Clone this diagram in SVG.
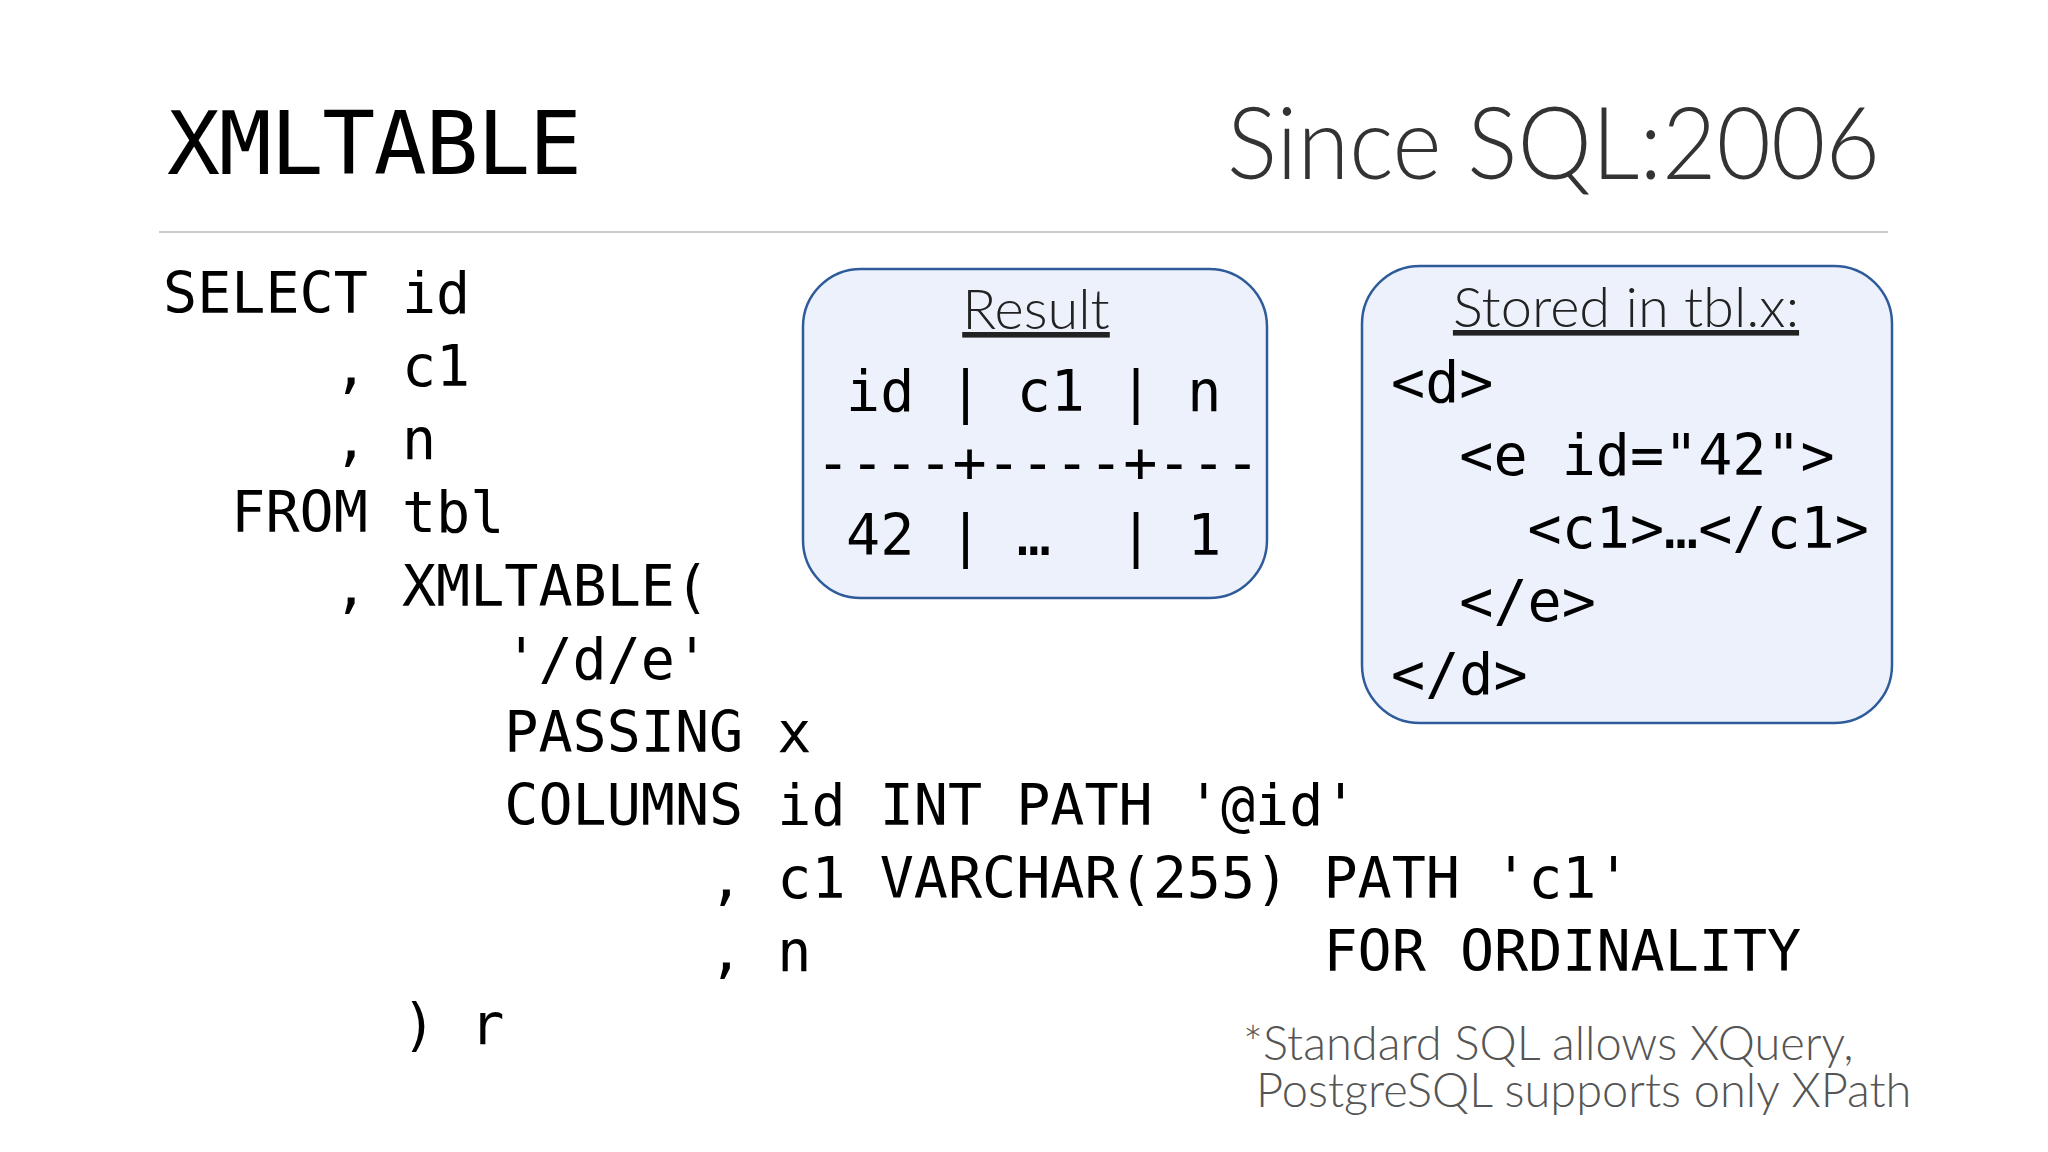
<svg xmlns="http://www.w3.org/2000/svg" width="2048" height="1152" viewBox="0 0 2048 1152">
<style>
.m{font-family:"DejaVu Sans Mono","Liberation Mono",monospace;font-size:56.7px;fill:#000;white-space:pre}
.l{font-family:"Lato","Liberation Sans",sans-serif;font-weight:300}
.box{fill:#ecf1fb;stroke:#2e5c9a;stroke-width:2.5}
</style>
<rect width="2048" height="1152" fill="#fff"/>
<g id="title"><text x="167" y="174" class="m" style="font-size:88px" textLength="415">XMLTABLE</text></g>
<g id="since"><text x="1880" y="179" class="l" text-anchor="end" font-size="100" fill="#333" textLength="653" lengthAdjust="spacingAndGlyphs">Since SQL:2006</text></g>
<line x1="159" y1="232" x2="1888" y2="232" stroke="#ccc" stroke-width="2"/>
<g id="code">
<text class="m" xml:space="preserve" x="163" y="313">SELECT id</text>
<text class="m" xml:space="preserve" x="163" y="386">     , c1</text>
<text class="m" xml:space="preserve" x="163" y="459">     , n</text>
<text class="m" xml:space="preserve" x="163" y="532">  FROM tbl</text>
<text class="m" xml:space="preserve" x="163" y="606">     , XMLTABLE(</text>
<text class="m" xml:space="preserve" x="163" y="679">          '/d/e'</text>
<text class="m" xml:space="preserve" x="163" y="752">          PASSING x</text>
<text class="m" xml:space="preserve" x="163" y="825">          COLUMNS id INT PATH '@id'</text>
<text class="m" xml:space="preserve" x="163" y="898">                , c1 VARCHAR(255) PATH 'c1'</text>
<text class="m" xml:space="preserve" x="163" y="971">                , n               FOR ORDINALITY</text>
<text class="m" xml:space="preserve" x="163" y="1044">       ) r</text>
</g>
<g id="result">
<rect x="803" y="269" width="464" height="329" rx="58" class="box"/>
<text x="1036" y="329" class="l" font-size="56" text-anchor="middle" text-decoration="underline" fill="#222">Result</text>
<text class="m" xml:space="preserve" x="846" y="411">id | c1 | n</text>
<text class="m" xml:space="preserve" x="816" y="482">----+----+---</text>
<text class="m" xml:space="preserve" x="846" y="555">42 | …  | 1</text>
</g>
<g id="stored">
<rect x="1362" y="266" width="530" height="457" rx="58" class="box"/>
<text x="1626" y="327" class="l" font-size="56" text-anchor="middle" text-decoration="underline" fill="#222">Stored in tbl.x:</text>
<text class="m" xml:space="preserve" x="1391" y="402">&lt;d&gt;</text>
<text class="m" xml:space="preserve" x="1391" y="475">  &lt;e id="42"&gt;</text>
<text class="m" xml:space="preserve" x="1391" y="548">    &lt;c1&gt;…&lt;/c1&gt;</text>
<text class="m" xml:space="preserve" x="1391" y="621">  &lt;/e&gt;</text>
<text class="m" xml:space="preserve" x="1391" y="694">&lt;/d&gt;</text>
</g>
<g id="note" class="l" font-size="47" fill="#555">
<text x="1243" y="1060">*Standard SQL allows XQuery,</text>
<text x="1256" y="1107">PostgreSQL supports only XPath</text>
</g>
</svg>
